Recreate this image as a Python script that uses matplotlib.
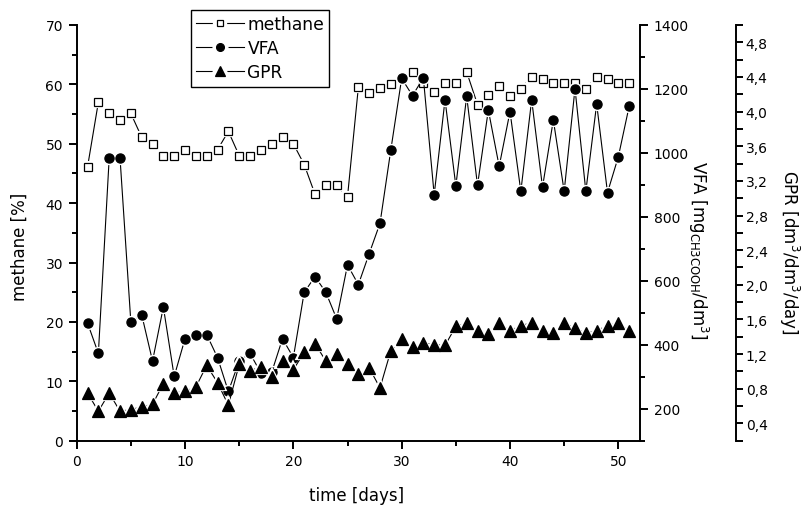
import matplotlib
matplotlib.use('Agg')
import matplotlib.pyplot as plt
from matplotlib.ticker import MultipleLocator, FuncFormatter
from matplotlib.lines import Line2D

days = list(range(1, 52))
methane = [46.1, 57.0, 55.1, 54.0, 55.1, 51.1, 50.0, 48.0, 48.0, 49.0,
           48.0, 48.0, 49.0, 52.1, 48.0, 48.0, 49.0, 50.0, 51.1, 50.0,
           46.5, 41.5, 43.0, 43.0, 41.1, 59.5, 58.5, 59.4, 60.1, 61.0,
           62.1, 60.2, 58.7, 60.2, 60.2, 62.1, 56.6, 58.2, 59.7, 58.1,
           59.3, 61.2, 60.9, 60.3, 60.2, 60.3, 59.3, 61.2, 60.9, 60.3, 60.2]
vfa = [468, 373, 984, 984, 470, 494, 349, 518, 301, 419,
       432, 432, 360, 254, 349, 373, 312, 314, 419, 360,
       564, 613, 564, 481, 650, 588, 685, 780, 1010, 1233,
       1179, 1235, 869, 1166, 897, 1177, 899, 1134, 958, 1129,
       880, 1166, 893, 1103, 880, 1201, 880, 1153, 876, 988, 1146]
gpr = [0.75, 0.54, 0.75, 0.54, 0.56, 0.59, 0.62, 0.86, 0.75, 0.77,
       0.82, 1.07, 0.87, 0.61, 1.08, 1.01, 1.05, 0.94, 1.12, 1.02,
       1.22, 1.32, 1.12, 1.20, 1.08, 0.97, 1.04, 0.81, 1.24, 1.37,
       1.28, 1.33, 1.31, 1.30, 1.52, 1.56, 1.47, 1.43, 1.56, 1.47,
       1.53, 1.56, 1.47, 1.44, 1.56, 1.50, 1.44, 1.47, 1.53, 1.56, 1.47]

plt.rcParams['font.family'] = ['DejaVu Sans']
plt.rcParams['mathtext.fontset'] = 'dejavusans'

W, H = 803, 506
fig = plt.figure(figsize=(W / 100, H / 100), dpi=100)
x0, x1, y0, y1 = 76.7, 640.0, 26.0, 441.7
ax = fig.add_axes([x0 / W, 1 - y1 / H, (x1 - x0) / W, (y1 - y0) / H])
ax2 = ax.twinx()
ax3 = ax.twinx()

SPW = 1.4
TICKFS = 10


def draw(a, y, marker, ms, mfc):
    a.plot(days, y, '-', color='black', lw=0.8, zorder=2)
    a.plot(days, y, linestyle='none', marker=marker, ms=ms, mfc='white',
           mec='white', mew=3.0, zorder=3)
    a.plot(days, y, linestyle='none', marker=marker, ms=ms, mfc=mfc,
           mec='black', mew=0.9, zorder=4)


draw(ax, methane, 's', 5.6, 'white')
draw(ax2, vfa, 'o', 6.6, 'black')
draw(ax3, gpr, '^', 8.2, 'black')

# main axis
ax.set_xlim(0, 52)
ax.set_ylim(0, 70)
ax.xaxis.set_major_locator(MultipleLocator(10))
ax.xaxis.set_minor_locator(MultipleLocator(5))
ax.yaxis.set_major_locator(MultipleLocator(10))
ax.yaxis.set_minor_locator(MultipleLocator(5))
for s in ['top', 'right']:
    ax.spines[s].set_visible(False)
for s in ['left', 'bottom']:
    ax.spines[s].set_linewidth(SPW)
ax.tick_params(which='major', direction='out', length=5.8, width=SPW,
               labelsize=TICKFS, pad=4)
ax.tick_params(which='minor', direction='out', length=3.6, width=SPW)

# VFA axis
ax2.set_ylim(100, 1400)
ax2.yaxis.set_major_locator(MultipleLocator(200))
ax2.yaxis.set_minor_locator(MultipleLocator(100))
for s in ['top', 'left', 'bottom']:
    ax2.spines[s].set_visible(False)
ax2.spines['right'].set_linewidth(SPW)
ax2.tick_params(which='major', direction='out', length=5.8, width=SPW,
                labelsize=TICKFS, pad=4)
ax2.tick_params(which='minor', direction='out', length=3.6, width=SPW)

# GPR axis
ax3.set_ylim(0.2, 5.0)
ax3.spines['right'].set_position(('axes', 1 + (736 - x1) / (x1 - x0)))
for s in ['top', 'left', 'bottom']:
    ax3.spines[s].set_visible(False)
ax3.spines['right'].set_linewidth(SPW)
ax3.yaxis.set_major_locator(MultipleLocator(0.4))
ax3.yaxis.set_minor_locator(MultipleLocator(0.2))
ax3.yaxis.set_major_formatter(FuncFormatter(lambda v, p: f"{v:.1f}".replace('.', ',')))
ax3.tick_params(which='major', direction='out', length=5.0, width=SPW,
                labelsize=TICKFS, pad=2)
ax3.tick_params(which='minor', direction='out', length=5.0, width=SPW)

# labels
LFS = 12
fig.text(357 / W, 1 - 495.7 / H, 'time [days]', ha='center', va='center', fontsize=LFS)
fig.text(20 / W, 1 - 247 / H, 'methane [%]', ha='center', va='center',
         rotation=90, fontsize=LFS)
fig.text(698.5 / W, 1 - 250 / H, r'VFA [mg$_{\mathregular{CH3COOH}}$/dm$^{\mathregular{3}}$]',
         ha='center', va='center', rotation=270, fontsize=LFS)
fig.text(789 / W, 1 - 252 / H, r'GPR [dm$^{\mathregular{3}}$/dm$^{\mathregular{3}}$/day]',
         ha='center', va='center', rotation=270, fontsize=LFS)


def handle(marker, ms, mfc):
    ln = Line2D([], [], color='black', lw=0.8)
    halo = Line2D([], [], linestyle='none', marker=marker, ms=ms, mfc='white',
                  mec='white', mew=6.0)
    mk = Line2D([], [], linestyle='none', marker=marker, ms=ms, mfc=mfc,
                mec='black', mew=0.9)
    return (ln, halo, mk)


handles = [handle('s', 4.8, 'white'), handle('o', 5.6, 'black'), handle('^', 6.6, 'black')]
leg = ax3.legend(handles, ['methane', 'VFA', 'GPR'], loc='upper left',
                 bbox_to_anchor=(191 / W, 1 - 11 / H), bbox_transform=fig.transFigure,
                 borderaxespad=0, fontsize=12.3, handlelength=2.8, handletextpad=0.2,
                 labelspacing=0.36, borderpad=0.3, numpoints=1, fancybox=False,
                 framealpha=1, edgecolor='black')
leg.get_frame().set_linewidth(1.0)

fig.savefig('out.png', dpi=100)
